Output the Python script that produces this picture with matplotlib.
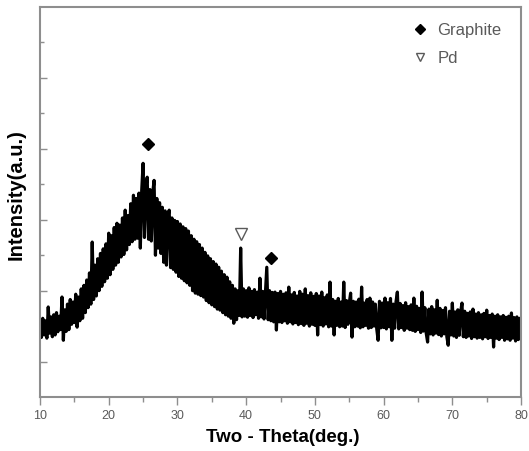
import numpy as np
import matplotlib
matplotlib.use('Agg')
from matplotlib import ticker
from matplotlib.pyplot import subplots, rcParams
from matplotlib.lines import Line2D

rcParams['font.family'] = ['Liberation Sans', 'DejaVu Sans']

# XRD scan, 10-80 deg, 0.2 deg step (intensity in arbitrary units)
two_theta = np.round(np.arange(10.0, 80.0001, 0.2), 1)
intensity = [
  200, 168, 222, 175, 215, 166, 254, 180, 226, 170,   # 10-12
  232, 175, 238, 184, 228, 190, 282, 160, 246, 185,   # 12-14
  262, 190, 275, 205, 268, 210, 290, 197, 282, 215,   # 14-16
  305, 222, 315, 238, 330, 252, 350, 262, 437, 275,   # 16-18
  372, 285, 390, 300, 405, 312, 418, 325, 432, 335,   # 18-20
  462, 345, 455, 360, 478, 372, 490, 380, 485, 395,   # 20-22
  505, 402, 527, 415, 512, 430, 545, 438, 569, 445,   # 22-24
  560, 448, 575, 420, 582, 659, 450, 590, 620, 445,   # 24-26
  585, 440, 575, 611, 400, 560, 420, 548, 405, 535,   # 26-28
  380, 525, 372, 510, 527, 365, 505, 360, 498, 352,   # 28-30
  495, 340, 488, 335, 480, 328, 475, 322, 468, 315,   # 30-32
  455, 300, 445, 293, 438, 290, 430, 286, 420, 282,   # 32-34
  408, 272, 398, 266, 390, 260, 382, 255, 375, 248,   # 34-36
  366, 245, 355, 238, 345, 232, 338, 228, 325, 222,   # 36-38
  315, 208, 305, 218, 300, 230, 420, 226, 305, 228,   # 38-40
  300, 225, 308, 230, 298, 224, 303, 232, 296, 222,   # 40-42
  335, 226, 298, 220, 294, 366, 218, 300, 215, 295,   # 42-44
  212, 296, 189, 292, 212, 298, 210, 290, 215, 294,   # 44-46
  208, 310, 212, 288, 206, 295, 210, 285, 204, 298,   # 46-48
  207, 290, 202, 305, 208, 286, 200, 294, 205, 284,   # 48-50
  202, 292, 175, 285, 204, 296, 200, 280, 206, 288,   # 50-52
  198, 324, 200, 275, 175, 270, 202, 278, 198, 268,   # 52-54
  200, 324, 196, 272, 205, 265, 293, 169, 270, 198,   # 54-56
  268, 200, 276, 195, 310, 198, 265, 202, 275, 194,   # 56-58
  279, 196, 268, 200, 262, 192, 160, 270, 195, 265,   # 58-60
  196, 279, 192, 266, 198, 278, 160, 262, 194, 268,   # 60-62
  296, 192, 264, 196, 258, 188, 266, 194, 255, 190,   # 62-64
  260, 188, 279, 185, 256, 190, 250, 182, 296, 186,   # 64-66
  252, 180, 155, 248, 178, 255, 175, 246, 180, 273,   # 66-68
  176, 250, 172, 244, 178, 252, 170, 146, 242, 175,   # 68-70
  265, 172, 240, 168, 246, 174, 238, 265, 170, 242,   # 70-72
  168, 236, 172, 240, 165, 248, 170, 234, 166, 238,   # 72-74
  168, 232, 164, 236, 170, 245, 165, 230, 168, 234,   # 74-76
  141, 228, 166, 232, 162, 226, 168, 230, 160, 225,   # 76-78
  164, 228, 160, 237, 166, 224, 158, 226, 162, 222,   # 78-80
  170,
]

# peak markers
graphite_x = [25.7, 43.6]
graphite_y = [713, 392]
pd_x = [39.25]
pd_y = [459]

legend_labels = ['Graphite', 'Pd']

axis_gray = '#8e8e8e'
text_gray = '#5a5a5a'

if __name__ == '__main__':
  fig, ax = subplots(figsize=(5.29, 4.51), dpi=100)
  fig.subplots_adjust(left=0.0756, right=0.985, bottom=0.1197, top=0.9845)

  ax.plot(two_theta, intensity, color='black', linewidth=2.3)
  ax.plot(graphite_x, graphite_y, ls='none', marker='D', markersize=6, color='black')
  ax.plot(pd_x, pd_y, ls='none', marker='v', markersize=8, mfc='white', mec=text_gray, mew=1.0)

  ax.set_xlim(10, 80)
  ax.set_ylim(0, 1100)
  ax.xaxis.set_major_locator(ticker.MultipleLocator(10))
  ax.xaxis.set_minor_locator(ticker.MultipleLocator(5))
  ax.set_yticks([100, 300, 500, 700, 900])
  ax.set_yticks([200, 400, 600, 800, 1000], minor=True)
  ax.tick_params(axis='y', which='both', direction='in', labelleft=False, color=axis_gray, width=1.0)
  ax.tick_params(axis='y', which='major', length=5)
  ax.tick_params(axis='y', which='minor', length=3)
  ax.tick_params(axis='x', which='both', direction='out', color=axis_gray, width=1.0,
                 labelsize=9, labelcolor=text_gray, pad=3)
  ax.tick_params(axis='x', which='major', length=6)
  ax.tick_params(axis='x', which='minor', length=3.5)
  for s in ax.spines.values():
    s.set_color(axis_gray)
    s.set_linewidth(1.5)

  ax.set_xlabel('Two - Theta(deg.)', fontsize=13.5, fontweight='bold')
  ax.set_ylabel('Intensity(a.u.)', fontsize=14.5, fontweight='bold')
  ax.xaxis.set_label_coords(0.505, -0.083)
  ax.yaxis.set_label_coords(-0.030, 0.52)

  handles = [
    Line2D([], [], ls='none', marker='D', markersize=5, color='black'),
    Line2D([], [], ls='none', marker='v', markersize=6, mfc='white', mec=text_gray, mew=1.0),
  ]
  leg = ax.legend(handles, legend_labels, loc='upper left', bbox_to_anchor=(0.773, 0.960),
                  frameon=False, borderaxespad=0, borderpad=0, handlelength=1.0,
                  handletextpad=0.52, labelspacing=0.8, prop={'size': 12})
  for t in leg.get_texts():
    t.set_color(text_gray)

  fig.savefig('out.png', dpi=100)
